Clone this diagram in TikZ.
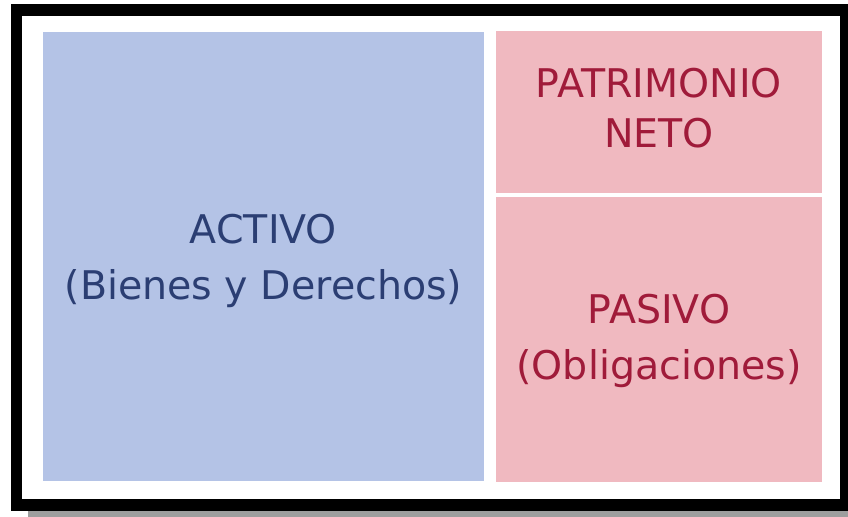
\documentclass[tikz,border=0pt]{standalone}
\usepackage{fontspec}
\setmainfont{DejaVu Sans}
\usetikzlibrary{positioning}

\definecolor{activofill}{RGB}{180,195,230}
\definecolor{activotext}{RGB}{43,62,115}
\definecolor{pasivofill}{RGB}{240,185,192}
\definecolor{pasivotext}{RGB}{160,27,58}

\tikzset{
  blocktext/.style={inner sep=0pt, outer sep=0pt, align=center,
    font=\fontsize{28.1}{39.8}\selectfont},
  activotext/.style={blocktext, text=activotext},
  pasivotext/.style={blocktext, text=pasivotext}
}

\begin{document}
\begin{tikzpicture}[x=0.025cm, y=-0.025cm]
        % the page and its frame
        \useasboundingbox (0,0) rectangle (848,517);
        \fill[white] (0,0) rectangle (848,517);
        \fill[black!38] (28,511) rectangle (848,517);
        \fill[black] (11,4) rectangle (848,511);
        \fill[white] (22,16) rectangle (840,499);

        % the three blocks of the balance
        \fill[activofill] (43,32) rectangle (484,481);
        \fill[pasivofill] (496,31) rectangle (822,193);
        \fill[pasivofill] (496,197) rectangle (822,482);

        % the texts
        \node[activotext] (activo) at (263.5,260.5) {ACTIVO\\(Bienes y Derechos)};
        \node[pasivotext, font=\fontsize{28.1}{35.6}\selectfont] (neto) at (659,108.5) {PATRIMONIO\\NETO};
        \node[pasivotext] (pasivo) at (659,340.5) {PASIVO\\(Obligaciones)};
    \end{tikzpicture}
\end{document}
